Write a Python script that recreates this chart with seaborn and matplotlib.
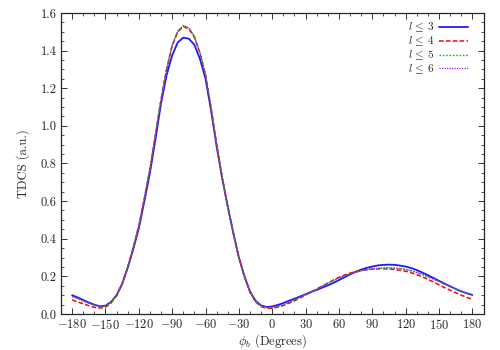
import numpy as np
import pandas as pd
import matplotlib
matplotlib.use("Agg")
import matplotlib.pyplot as plt
from matplotlib.ticker import MultipleLocator
import seaborn as sns

# scattering angle phi_b in degrees
phi = list(range(-180, 181, 5))

tdcs_l3 = [0.100, 0.088, 0.074, 0.061, 0.049, 0.041, 0.044, 0.064, 0.100, 0.160,
           0.245, 0.345, 0.455, 0.600, 0.750, 0.930, 1.120, 1.270, 1.375, 1.443,
           1.469, 1.463, 1.430, 1.355, 1.250, 1.080, 0.890, 0.720, 0.570, 0.430,
           0.300, 0.200, 0.120, 0.070, 0.045, 0.037, 0.040, 0.048, 0.058, 0.070,
           0.081, 0.093, 0.105, 0.117, 0.128, 0.140, 0.152, 0.165, 0.180, 0.195,
           0.210, 0.224, 0.236, 0.245, 0.252, 0.258, 0.261, 0.262, 0.261, 0.257,
           0.252, 0.244, 0.233, 0.220, 0.206, 0.191, 0.176, 0.161, 0.147, 0.133,
           0.120, 0.110, 0.101]

tdcs_l4 = [0.075, 0.064, 0.054, 0.044, 0.035, 0.031, 0.036, 0.058, 0.097, 0.160,
           0.248, 0.352, 0.468, 0.615, 0.770, 0.955, 1.140, 1.300, 1.425, 1.499,
           1.527, 1.515, 1.470, 1.385, 1.270, 1.095, 0.900, 0.725, 0.570, 0.430,
           0.298, 0.196, 0.115, 0.064, 0.039, 0.030, 0.031, 0.036, 0.045, 0.057,
           0.070, 0.085, 0.100, 0.116, 0.132, 0.148, 0.164, 0.180, 0.195, 0.207,
           0.217, 0.225, 0.231, 0.235, 0.238, 0.240, 0.240, 0.239, 0.236, 0.232,
           0.227, 0.219, 0.209, 0.197, 0.184, 0.170, 0.155, 0.140, 0.126, 0.113,
           0.100, 0.088, 0.077]

tdcs_l5 = [0.092, 0.081, 0.069, 0.057, 0.046, 0.039, 0.042, 0.062, 0.099, 0.161,
           0.249, 0.353, 0.469, 0.617, 0.772, 0.957, 1.143, 1.303, 1.428, 1.503,
           1.531, 1.520, 1.474, 1.388, 1.272, 1.096, 0.900, 0.725, 0.570, 0.430,
           0.298, 0.197, 0.117, 0.067, 0.042, 0.034, 0.035, 0.040, 0.049, 0.061,
           0.074, 0.088, 0.102, 0.117, 0.132, 0.147, 0.162, 0.177, 0.191, 0.203,
           0.213, 0.222, 0.229, 0.234, 0.238, 0.241, 0.243, 0.244, 0.243, 0.240,
           0.236, 0.229, 0.220, 0.209, 0.197, 0.185, 0.172, 0.158, 0.145, 0.132,
           0.120, 0.109, 0.099]

tdcs_l6 = [0.094, 0.082, 0.070, 0.058, 0.047, 0.040, 0.043, 0.063, 0.100, 0.162,
           0.250, 0.354, 0.470, 0.618, 0.773, 0.958, 1.144, 1.305, 1.430, 1.505,
           1.533, 1.522, 1.476, 1.389, 1.273, 1.097, 0.901, 0.726, 0.571, 0.431,
           0.299, 0.198, 0.118, 0.068, 0.043, 0.035, 0.036, 0.041, 0.050, 0.062,
           0.075, 0.089, 0.103, 0.118, 0.133, 0.148, 0.163, 0.178, 0.192, 0.204,
           0.214, 0.223, 0.230, 0.236, 0.240, 0.243, 0.245, 0.245, 0.244, 0.241,
           0.237, 0.230, 0.221, 0.210, 0.198, 0.186, 0.173, 0.159, 0.146, 0.133,
           0.121, 0.110, 0.101]

labels = [r"$l\,\leq\,3$", r"$l\,\leq\,4$", r"$l\,\leq\,5$", r"$l\,\leq\,6$"]
series = [tdcs_l3, tdcs_l4, tdcs_l5, tdcs_l6]

df = pd.concat(
    [pd.DataFrame({"phi": phi, "tdcs": vals, "basis": lab}) for lab, vals in zip(labels, series)],
    ignore_index=True,
)

sns.set_style("ticks")
plt.rcParams.update({
    "font.family": "serif",
    "font.serif": ["cmr10", "DejaVu Serif"],
    "mathtext.fontset": "cm",
    "axes.unicode_minus": False,
    "axes.formatter.use_mathtext": True,
    "font.size": 9,
})

colors = ["#1a1aff", "#ff0000", "#00cc00", "#a020f0"]
styles = ["-", (0, (3, 1.5)), (0, (1.2, 1.2)), (0, (1, 1))]
widths = [1.3, 1.1, 1.0, 0.9]

fig = plt.figure(figsize=(5, 3.5), dpi=100)
ax = fig.add_axes([0.122, 0.103, 0.845, 0.860])

for lab, col, ls, lw in zip(labels, colors, styles, widths):
    sns.lineplot(data=df[df["basis"] == lab], x="phi", y="tdcs", ax=ax,
                 color=col, linestyle=ls, linewidth=lw, label=lab)

ax.set_xlim(-190, 190)
ax.set_ylim(0, 1.6)
ax.xaxis.set_major_locator(MultipleLocator(30))
ax.xaxis.set_minor_locator(MultipleLocator(10))
ax.yaxis.set_major_locator(MultipleLocator(0.2))
ax.yaxis.set_minor_locator(MultipleLocator(0.05))
ax.yaxis.set_major_formatter(matplotlib.ticker.FormatStrFormatter("%.1f"))
ax.tick_params(which="both", direction="in", top=True, right=True, color="#333333",
               labelsize=9)
ax.tick_params(which="major", length=4, width=0.7, pad=3)
ax.tick_params(which="minor", length=2, width=0.6)
for sp in ax.spines.values():
    sp.set_linewidth(0.9)

ax.set_xlabel(r"$\phi_b$ (Degrees)", fontsize=9)
ax.xaxis.set_label_coords(0.5, -0.06)
ax.set_ylabel("TDCS (a.u.)", fontsize=9, labelpad=8)

ax.legend(loc="upper right", bbox_to_anchor=(0.98, 0.995), frameon=False,
          markerfirst=False, fontsize=8, handlelength=2.6, labelspacing=0.05,
          borderaxespad=0.2, handletextpad=0.5)

fig.savefig("out.png", dpi=100)
